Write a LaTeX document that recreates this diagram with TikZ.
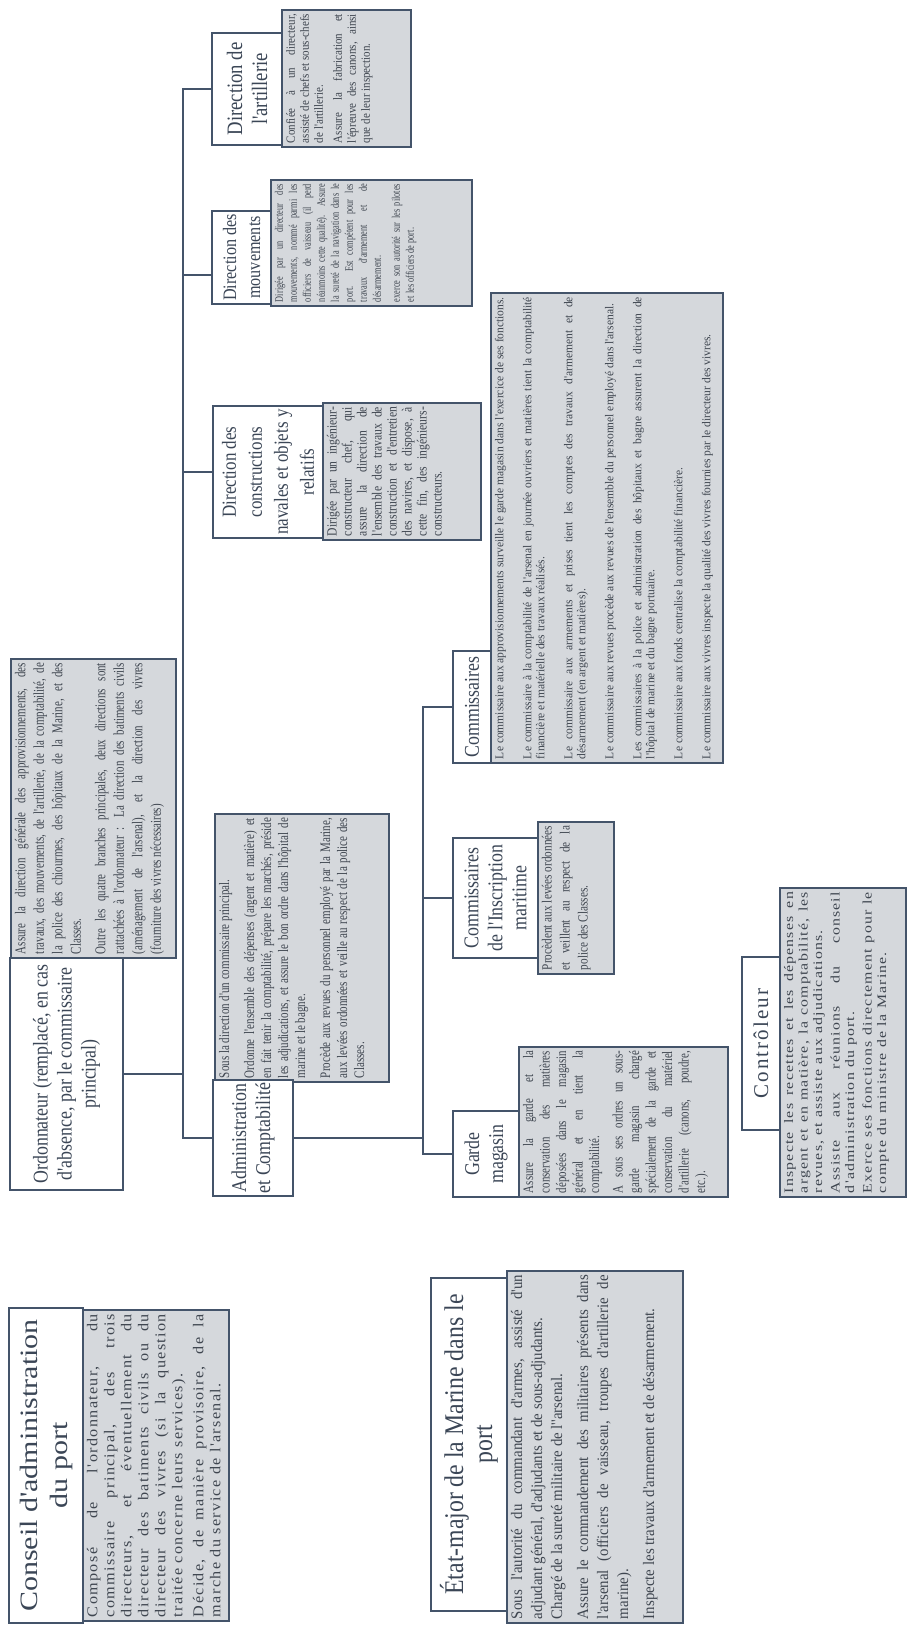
\documentclass[tikz,border=0pt]{standalone}
\usepackage{fontspec}
\setmainfont{Liberation Serif}
\definecolor{lc}{HTML}{44546A}
\definecolor{gfill}{HTML}{D5D8DC}
\definecolor{ttxt}{HTML}{3B4656}
\definecolor{dtxt}{HTML}{3F4650}
\newlength\dpad \setlength\dpad{4pt}
\newcommand\xfont[4]{\fontspec[FakeStretch=#1,LetterSpace=#4]{Liberation Serif}\fontsize{#2}{#3}\selectfont}
\tikzset{
 conn/.style={draw=lc, line width=2pt},
 tbox/.style={draw=lc, line width=1.8pt, fill=white, rotate=90, inner sep=1pt, align=center, text=ttxt},
 dbox/.style={draw=lc, line width=1.8pt, fill=gfill, rotate=90, inner sep=\dpad},
}
% name, x1, y1, x2, y2, font, text
\newcommand\titlebox[7]{\node[tbox, minimum width={(#5-#3)*1pt}, minimum height={(#4-#2)*1pt}, font={#6}] (#1) at ({(#2+#4)/2},{-(#3+#5)/2}) {#7};}
% name, x1, y1, x2, y2, font, parskip, text
\newcommand\descbox[8]{\node[dbox] (#1) at ({(#2+#4)/2},{-(#3+#5)/2}) {\begin{minipage}[t][\dimexpr #4pt-#2pt-2\dpad\relax][t]{\dimexpr #5pt-#3pt-2\dpad\relax}#6\spaceskip=\fontdimen2\font plus 1.5\fontdimen3\font\relax\setlength\parskip{#7pt}\setlength\parindent{0pt}\hyphenpenalty=10000 \exhyphenpenalty=50 \tolerance=9999 \emergencystretch=3em \color{dtxt}#8\end{minipage}};}
\begin{document}
\begin{tikzpicture}[x=1pt,y=1pt]
\useasboundingbox (0,0) rectangle (913,-1625);
% ---------- Conseil
\descbox{csD}{83}{1310}{229}{1621}{\xfont{1.08}{15}{17}{9}}{4}{Composé de l'ordonnateur, du commissaire principal, des trois directeurs, et éventuellement du directeur des batiments civils ou du directeur des vivres (si la question traitée concerne leurs services).\par Décide, de manière provisoire, de la marche du service de l'arsenal.}
\titlebox{csT}{9}{1308}{83}{1623}{\xfont{1.2}{25}{30}{0}}{Conseil d'administration\\du port}
% ---------- Etat-major
\descbox{etD}{507}{1271}{683}{1623}{\xfont{0.93}{16}{20}{0}}{6}{Sous l'autorité du commandant d'armes, assisté d'un adjudant général, d'adjudants et de sous-adjudants.\newline Chargé de la sureté militaire de l''arsenal.\par Assure le commandement des militaires présents dans l'arsenal (officiers de vaisseau, troupes d'artillerie de marine).\par Inspecte les travaux d'armement et de désarmement.}
\titlebox{etT}{431}{1278}{507}{1611}{\xfont{0.88}{27}{29}{0}}{État-major de la Marine dans le\\port}
% ---------- Ordonnateur
\descbox{ordD}{11}{659}{176}{958}{\xfont{0.73}{15}{18.5}{0}}{6}{Assure la direction générale des approvisionnements, des\linebreak travaux, des mouvements, de l'artillerie, de la comptabilité, de\linebreak la police des chiourmes, des hôpitaux de la Marine, et des\linebreak Classes.\par Outre les quatre branches principales, deux directions sont\linebreak rattachées à l'ordonnateur : La direction des batiments civils\linebreak (aménagement de l'arsenal), et la direction des vivres\linebreak (fourniture des vivres nécessaires)}
\titlebox{ordT}{10}{958}{123}{1190}{\xfont{0.85}{21}{24}{0}}{Ordonnateur (remplacé, en cas\\d'absence, par le commissaire\\principal)}
% ---------- Administration
\descbox{admD}{215}{814}{389}{1082}{\xfont{0.76}{14.5}{17}{0}}{8}{Sous la direction d'un commissaire principal.\par Ordonne l'ensemble des dépenses (argent et matière) et en fait tenir la comptabilité, prépare les marchés, préside les adjudications, et assure le bon ordre dans l'hôpital de marine et le bagne.\par Procède aux revues du personnel employé par la Marine, aux levées ordonnées et veille au respect de la police des Classes.}
\titlebox{admT}{213}{1080}{293}{1196}{\xfont{0.85}{21}{24}{0}}{Administration\\et Comptabilité}
% ---------- Constructions
\descbox{conD}{323}{403}{481}{540}{\xfont{0.83}{14}{15}{0}}{0}{Dirigée par un ingénieur-constructeur chef, qui assure la direction de l'ensemble des travaux de construction et d'entretien des navires, et dispose, à cette fin, des ingénieurs-constructeurs.}
\titlebox{conT}{213}{406}{323}{538}{\xfont{0.85}{20}{26}{0}}{Direction des\\constructions\\navales et objets y\\relatifs}
% ---------- Mouvements
\descbox{mouD}{271}{180}{472}{306}{\xfont{0.72}{11.5}{14}{0}}{5}{Dirigée par un directeur des\linebreak mouvements, nommé parmi les\linebreak officiers de vaisseau (il perd\linebreak néanmoins cette qualité). Assure\linebreak la sureté de la navigation dans le\linebreak port. Est compétent pour les\linebreak travaux d'armement et de\linebreak désarmement.\par exerce son autorité sur les pilotes\linebreak et les officiers de port.}
\titlebox{mouT}{212}{211}{271}{304}{\xfont{0.85}{19}{24}{0}}{Direction des\\mouvements}
% ---------- Artillerie
\descbox{artD}{282}{10}{411}{147}{\xfont{0.88}{12.5}{14}{0}}{5}{Confiée à un directeur, assisté de chefs et sous-chefs de l'artillerie.\par Assure la fabrication et l'épreuve des canons, ainsi que de leur inspection.}
\titlebox{artT}{212}{33}{282}{145}{\xfont{0.85}{22}{25}{0}}{Direction de\\l'artillerie}
% ---------- Commissaires
\descbox{comD}{491}{293}{723}{763}{\xfont{0.96}{12}{13}{0}}{15}{Le commissaire aux approvisionnements surveille le garde magasin dans l'exercice de ses fonctions.\par Le commissaire à la comptabilité de l'arsenal en journée ouvriers et matières tient la comptabilité financière et matérielle des travaux réalisés.\par Le commissaire aux armements et prises tient les comptes des travaux d'armement et de désarmement (en argent et matières).\par Le commissaire aux revues procède aux revues de l'ensemble du personnel employé dans l'arsenal.\par Les commissaires à la police et administration des hôpitaux et bagne assurent la direction de l'hôpital de marine et du bagne portuaire.\par Le commissaire aux fonds centralise la comptabilité financière.\par Le commissaire aux vivres inspecte la qualité des vivres fournies par le directeur des vivres.}
\titlebox{comT}{453}{651}{491}{763}{\xfont{0.85}{21}{24}{0}}{Commissaires}
% ---------- Inscription maritime
\descbox{insD}{538}{822}{614}{974}{\xfont{0.8}{14}{18}{0}}{0}{Procèdent aux levées ordonnées\linebreak et veillent au respect de la\linebreak police des Classes.}
\titlebox{insT}{453}{838}{538}{958}{\xfont{0.85}{21}{24}{0}}{Commissaires\\de l'Inscription\\maritime}
% ---------- Garde magasin
\descbox{garD}{519}{1047}{728}{1197}{\xfont{0.75}{14.5}{16.5}{0}}{7}{Assure la garde et la\linebreak conservation des matières\linebreak déposées dans le magasin\linebreak général et en tient la\linebreak comptabilité.\par A sous ses ordres un sous-\linebreak garde magasin chargé\linebreak spécialement de la garde et\linebreak conservation du matériel\linebreak d'artillerie (canons, poudre,\linebreak etc.).}
\titlebox{garT}{453}{1111}{519}{1197}{\xfont{0.85}{21}{24}{0}}{Garde\\magasin}
% ---------- Controleur
\descbox{ctrD}{780}{888}{906}{1197}{\xfont{1.22}{13}{14.5}{9}}{3}{Inspecte les recettes et les dépenses en argent et en matière, la comptabilité, les revues, et assiste aux adjudications.\par Assiste aux réunions du conseil d'administration du port.\par Exerce ses fonctions directement pour le compte du ministre de la Marine.}
\titlebox{ctrT}{742}{957}{780}{1130}{\xfont{1.0}{21}{24}{10}}{Contrôleur}
% ---------- connectors
\coordinate (trk) at (183,0);
\coordinate (sx) at (423,0);
\coordinate (jm) at (183,-275);
\draw[conn] (artT.north) -- (artT.north -| trk) -- (admT.north -| trk) -- (admT.north);
\draw[conn] (jm) -- (jm -| mouT.north);
\draw[conn] (conT.north -| trk) -- (conT.north);
\draw[conn] (ordT.south) -- (ordT.south -| trk);
\draw[conn] (admT.south) -- (admT.south -| sx);
\draw[conn] (comT.north) -- (comT.north -| sx) -- (garT.north -| sx) -- (garT.north);
\draw[conn] (insT.north -| sx) -- (insT.north);
\end{tikzpicture}
\end{document}
